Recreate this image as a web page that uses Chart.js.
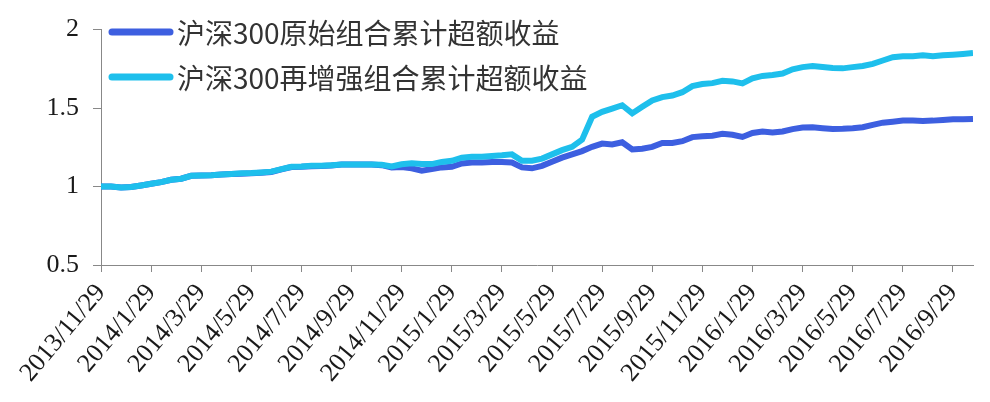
<!DOCTYPE html>
<html>
<head>
<meta charset="utf-8">
<title>沪深300组合累计超额收益</title>
<script src="https://cdn.jsdelivr.net/npm/chart.js@4.4.0/dist/chart.umd.min.js"></script>
<style>
  html, body { margin: 0; padding: 0; background: #ffffff; }
  #wrap { width: 990px; height: 402px; }
</style>
</head>
<body>
<div id="wrap"><canvas id="chart" width="990" height="402"></canvas></div>
<script>
// ============================================================================
// Data (~5 samples per 2-month tick interval)
// ============================================================================

const SERIES_NAMES = ['沪深300原始组合累计超额收益', '沪深300再增强组合累计超额收益'];

const TICK_LABELS = [
  '2013/11/29', '2014/1/29', '2014/3/29', '2014/5/29', '2014/7/29', '2014/9/29',
  '2014/11/29', '2015/1/29', '2015/3/29', '2015/5/29', '2015/7/29', '2015/9/29',
  '2015/11/29', '2016/1/29', '2016/3/29', '2016/5/29', '2016/7/29', '2016/9/29'
];
const SAMPLES_PER_TICK = 5;

const ORIGINAL = [
  1.000, 1.000, 0.994, 0.997, 1.007, 1.018, 1.028, 1.043, 1.050, 1.068,
  1.070, 1.072, 1.076, 1.080, 1.082, 1.084, 1.088, 1.093, 1.109, 1.124,
  1.126, 1.130, 1.131, 1.134, 1.140, 1.140, 1.140, 1.140, 1.136, 1.122,
  1.125, 1.116, 1.101, 1.111, 1.122, 1.126, 1.147, 1.153, 1.153, 1.157,
  1.157, 1.153, 1.122, 1.116, 1.132, 1.158, 1.184, 1.205, 1.226, 1.253,
  1.274, 1.268, 1.282, 1.236, 1.241, 1.253, 1.278, 1.278, 1.289, 1.315,
  1.320, 1.324, 1.336, 1.330, 1.316, 1.341, 1.351, 1.345, 1.351, 1.366,
  1.376, 1.378, 1.372, 1.366, 1.368, 1.372, 1.378, 1.393, 1.407, 1.413,
  1.420, 1.420, 1.418, 1.420, 1.424, 1.428, 1.428, 1.430
];

const ENHANCED = [
  1.000, 1.000, 0.994, 0.997, 1.007, 1.018, 1.028, 1.043, 1.050, 1.068,
  1.070, 1.072, 1.076, 1.080, 1.084, 1.086, 1.090, 1.095, 1.111, 1.126,
  1.128, 1.132, 1.133, 1.136, 1.140, 1.140, 1.140, 1.140, 1.139, 1.128,
  1.142, 1.149, 1.143, 1.143, 1.157, 1.164, 1.184, 1.190, 1.190, 1.195,
  1.199, 1.205, 1.164, 1.164, 1.178, 1.205, 1.232, 1.253, 1.299, 1.445,
  1.476, 1.497, 1.518, 1.466, 1.508, 1.549, 1.570, 1.580, 1.601, 1.640,
  1.653, 1.659, 1.674, 1.670, 1.657, 1.689, 1.705, 1.711, 1.720, 1.747,
  1.761, 1.768, 1.761, 1.755, 1.753, 1.761, 1.768, 1.782, 1.803, 1.824,
  1.830, 1.830, 1.836, 1.830, 1.836, 1.840, 1.845, 1.851
];

const COLORS = ['#3d5fe0', '#1ebfec'];

// ============================================================================
// Legend drawn inside the plot area (top-left)
// ============================================================================

const insideLegend = {
  id: 'insideLegend',
  afterDraw(chart) {
    const ctx = chart.ctx;
    const rows = [32, 77];
    ctx.save();
    chart.data.datasets.forEach((ds, i) => {
      const y = rows[i];
      ctx.strokeStyle = ds.borderColor;
      ctx.lineWidth = 7;
      ctx.lineCap = 'round';
      ctx.beginPath();
      ctx.moveTo(112, y);
      ctx.lineTo(170, y);
      ctx.stroke();
      ctx.fillStyle = '#333333';
      ctx.font = '28px "Noto Sans CJK SC", "Noto Sans", sans-serif';
      ctx.textAlign = 'left';
      ctx.textBaseline = 'middle';
      ctx.fillText(ds.label, 177, y + 1);
    });
    ctx.restore();
  }
};

// ============================================================================
// Chart
// ============================================================================

function toPoints(values) {
  return values.map((v, i) => ({ x: i, y: v }));
}

const SERIF = '"Liberation Serif", "Times New Roman", serif';
const ctx = document.getElementById('chart').getContext('2d');

// lower order is drawn on top: enhanced (cyan) over original (blue)
new Chart(ctx, {
  type: 'line',
  data: {
    datasets: [
      {
        label: SERIES_NAMES[0],
        data: toPoints(ORIGINAL),
        borderColor: COLORS[0],
        borderWidth: 6,
        pointRadius: 0,
        tension: 0,
        order: 1
      },
      {
        label: SERIES_NAMES[1],
        data: toPoints(ENHANCED),
        borderColor: COLORS[1],
        borderWidth: 6,
        pointRadius: 0,
        tension: 0,
        order: 0
      }
    ]
  },
  options: {
    responsive: false,
    animation: false,
    layout: { padding: { top: 25, right: 17, left: 0, bottom: 0 } },
    plugins: {
      legend: { display: false },
      tooltip: { enabled: false }
    },
    scales: {
      x: {
        type: 'linear',
        min: 0,
        max: ORIGINAL.length - 1,
        afterBuildTicks: scale => {
          scale.ticks = TICK_LABELS.map((_, i) => ({ value: i * SAMPLES_PER_TICK }));
        },
        afterFit: scale => {
          scale.height = 137;
          scale.paddingLeft = 0;
          scale.paddingRight = 0;
        },
        grid: { drawOnChartArea: false, tickLength: 7, tickColor: '#888888' },
        border: { color: '#888888', width: 1 },
        ticks: {
          autoSkip: false,
          minRotation: 50,
          maxRotation: 50,
          padding: 6,
          color: '#1a1a1a',
          font: { family: SERIF, size: 26 },
          callback: (value, index) => TICK_LABELS[index]
        }
      },
      y: {
        min: 0.5,
        max: 2,
        afterFit: scale => { scale.width = 101; },
        grid: { drawOnChartArea: false, tickLength: 8, tickColor: '#888888' },
        border: { color: '#888888', width: 1 },
        ticks: {
          stepSize: 0.5,
          padding: 14,
          color: '#1a1a1a',
          font: { family: SERIF, size: 26 },
          callback: value => String(value)
        }
      }
    }
  },
  plugins: [insideLegend]
});
</script>
</body>
</html>
